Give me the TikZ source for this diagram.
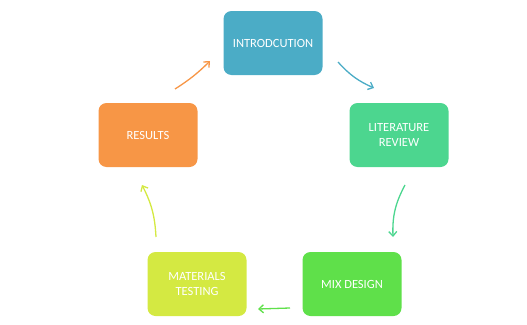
\documentclass[tikz,border=0pt]{standalone}
\usepackage{fontspec}
\setmainfont{Carlito}
\usetikzlibrary{positioning,arrows.meta}

\definecolor{introblue}{RGB}{75,172,198}
\definecolor{litgreen}{RGB}{76,214,143}
\definecolor{mixgreen}{RGB}{95,224,74}
\definecolor{matlime}{RGB}{212,233,66}
\definecolor{resorange}{RGB}{247,150,70}

\tikzset{
  box/.style={rounded corners=8pt, minimum width=99pt, minimum height=64pt,
    text=white, align=center, inner sep=0.75pt, font=\fontsize{12.5}{15}\selectfont},
  flow/.style={line width=1.3pt, -{Straight Barb[length=4.5pt,width=8pt]}}
}

\begin{document}
\begin{tikzpicture}[x=1pt,y=1pt,yscale=-1,xscale=1]
\useasboundingbox (0,0) rectangle (527,324);

% Text Node
\node [box, fill=introblue] (intro) at (273,43) {INTRODCUTION};
% Text Node
\node [box, fill=litgreen] (lit) at (399,135) {LITERATURE\\REVIEW};
% Text Node
\node [box, fill=mixgreen] (mix) at (352,284) {MIX DESIGN};
% Text Node
\node [box, fill=matlime] (mat) at (197,284) {MATERIALS\\TESTING};
% Text Node
\node [box, fill=resorange] (res) at (148,135) {RESULTS};

% arrow ends
\coordinate (a1) at (338,62);  \coordinate (b1) at (374,88);
\coordinate (a2) at (405,185); \coordinate (b2) at (393,237);
\coordinate (a3) at (290,308); \coordinate (b3) at (258,309);
\coordinate (a4) at (156,237); \coordinate (b4) at (142,185);
\coordinate (a5) at (175,89);  \coordinate (b5) at (210,61);

%Curved Lines
\draw [flow, color=introblue] (a1) to[bend left=12] (b1);
\draw [flow, color=litgreen] (a2) to[bend left=15] (b2);
\draw [flow, color=mixgreen] (a3) -- (b3);
\draw [flow, color=matlime] (a4) to[bend left=12] (b4);
\draw [flow, color=resorange] (a5) to[bend left=6] (b5);

\end{tikzpicture}
\end{document}
